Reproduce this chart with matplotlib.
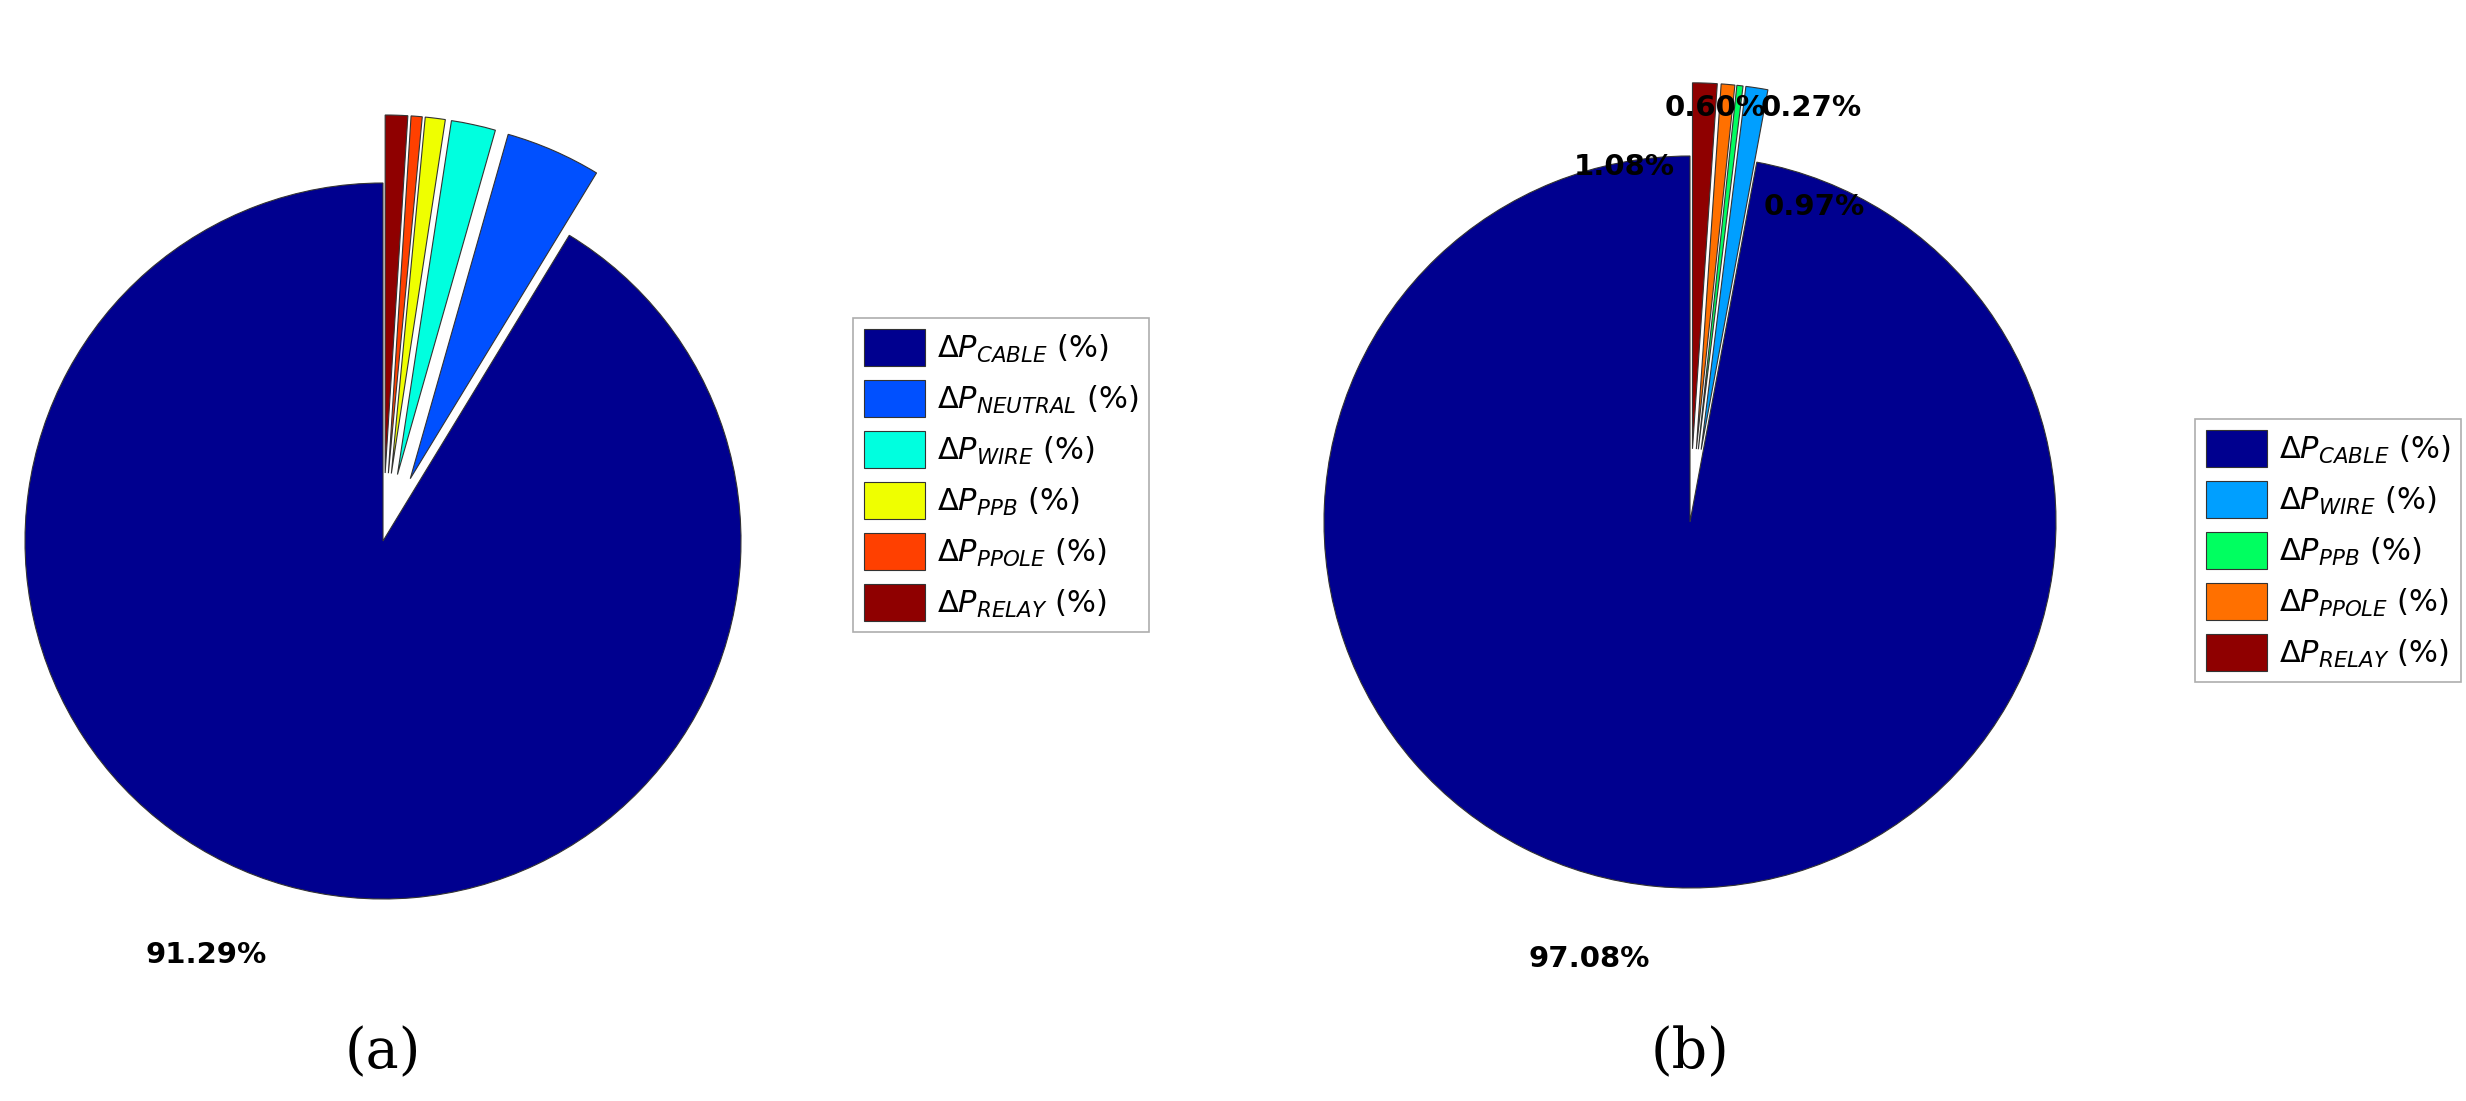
import matplotlib
matplotlib.use("Agg")
import matplotlib.pyplot as plt

W, H = 2466, 1101

# (a)
labels_a = ['CABLE', 'NEUTRAL', 'WIRE', 'PPB', 'PPOLE', 'RELAY']
values_a = [91.29, 4.30, 2.00, 0.90, 0.50, 1.01]
colors_a = ['#00008F', '#0050FF', '#00FFDF', '#EFFF00', '#FF4000', '#8F0000']

# (b)
labels_b = ['CABLE', 'WIRE', 'PPB', 'PPOLE', 'RELAY']
values_b = [97.08, 0.97, 0.27, 0.60, 1.08]
colors_b = ['#00008F', '#009FFF', '#00FF60', '#FF7000', '#8F0000']
pct_b = ['97.08%', '0.97%', '0.27%', '0.60%', '1.08%']
# manual spots for the crowded small labels (data units, radius = 1)
small_pos_b = [None, (0.34, 0.86), (0.33, 1.13), (0.07, 1.13), (-0.18, 0.97)]

fig = plt.figure(figsize=(W / 100, H / 100), dpi=100)


def pie_axes(cx, cy, R):
    ax = fig.add_axes([(cx - 1.1 * R) / W, (cy - 1.1 * R) / H, 2.2 * R / W, 2.4 * R / H])
    ax.set_xlim(-1.1, 1.1)
    ax.set_ylim(-1.1, 1.3)
    ax.axis('off')
    return ax


def legend_of(wedges, names, x, y):
    lg = fig.legend(wedges, [r'$\Delta P_{%s}$ (%%)' % n for n in names],
                    loc='upper left', bbox_to_anchor=(x / W, 1 - y / H),
                    fontsize=22, fancybox=False, edgecolor='#999999',
                    handlelength=2.0, handleheight=1.5, labelspacing=0.45,
                    borderpad=0.35, handletextpad=0.4)
    lg.get_frame().set_linewidth(1.2)


wp = dict(edgecolor='#333333', linewidth=0.8)

ax_a = pie_axes(383, 560, 358)
wa, ta = ax_a.pie(values_a, colors=colors_a, startangle=90, counterclock=True,
                  explode=[0] + [0.19] * 5, labels=['91.29%'] + [''] * 5,
                  labeldistance=1.2, wedgeprops=wp, frame=True,
                  textprops=dict(fontsize=21, fontweight='bold'))
ax_a.axis('off')
for w in wa:
    w.set_clip_on(False)
legend_of(wa, labels_a, 838, 303)

ax_b = pie_axes(1690, 579, 366)
wb, tb = ax_b.pie(values_b, colors=colors_b, startangle=90, counterclock=True,
                  explode=[0] + [0.2] * 4, labels=pct_b,
                  labeldistance=1.2, wedgeprops=wp, frame=True,
                  textprops=dict(fontsize=21, fontweight='bold'))
ax_b.axis('off')
for w in wb:
    w.set_clip_on(False)
for t, p in zip(tb, small_pos_b):
    if p is not None:
        t.set_position(p)
        t.set_ha('center')
        t.set_va('center')
legend_of(wb, labels_b, 2180, 404)

fig.text(383 / W, 1 - 1053 / H, '(a)', fontsize=40, family='DejaVu Serif', ha='center', va='center')
fig.text(1690 / W, 1 - 1053 / H, '(b)', fontsize=40, family='DejaVu Serif', ha='center', va='center')

fig.savefig('out.png', dpi=100)
